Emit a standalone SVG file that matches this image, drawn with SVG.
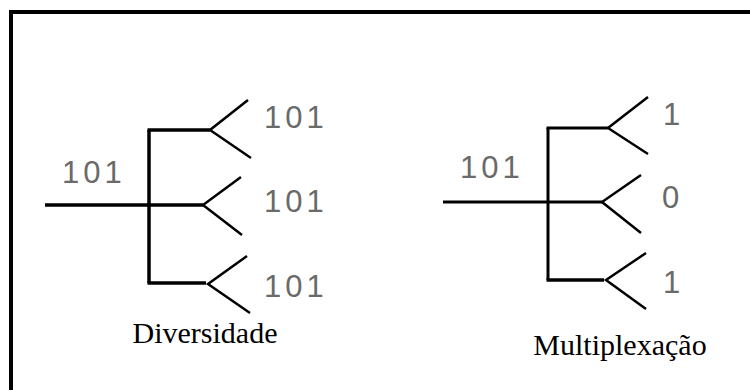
<svg xmlns="http://www.w3.org/2000/svg" width="750" height="390" viewBox="0 0 750 390">
<style>
.bg{fill:#ffffff}
.frame{fill:none;stroke:#000;stroke-width:4}
.trunk{fill:none;stroke:#000;stroke-width:3.5;stroke-linecap:butt}
.trunk2{fill:none;stroke:#000;stroke-width:3;stroke-linecap:butt}
.arm{fill:none;stroke:#000;stroke-width:2.5;stroke-linecap:butt}
.bits{font-family:"Liberation Sans",Arial,sans-serif;font-size:31px;fill:#6a6a6a;letter-spacing:4px}
.cap{font-family:"Liberation Serif","Times New Roman",serif;font-size:30px;fill:#000;text-anchor:middle}
</style>
<rect class="bg" x="0" y="0" width="750" height="390"/>
<path class="frame" d="M11,394 V12 H754"/>
<g id="connectors">
  <g id="div-lines">
    <path class="trunk" d="M45,205 H149"/>
    <path class="trunk" d="M149,130 V283"/>
    <path class="trunk" d="M147.5,130 H210"/>
    <path class="trunk" d="M149,205 H203"/>
    <path class="trunk" d="M147.5,283 H206"/>
  </g>
  <g id="mux-lines">
    <path class="trunk2" d="M443,202 H548"/>
    <path class="trunk2" d="M548,128 V280"/>
    <path class="trunk2" d="M546.5,128 H608"/>
    <path class="trunk2" d="M548,202 H602"/>
    <path class="trunk" d="M546.5,280 H604"/>
  </g>
</g>
<g id="div-ant1"><path class="arm" d="M248,100 L210,130 L251,158"/></g>
<g id="div-ant2"><path class="arm" d="M241,177 L203,205 L242,235"/></g>
<g id="div-ant3"><path class="arm" d="M247,256 L208,284 L250,313"/></g>
<g id="mux-ant1"><path class="arm" d="M648,97 L608,128 L648,154"/></g>
<g id="mux-ant2"><path class="arm" d="M641,175 L602,202 L641,233"/></g>
<g id="mux-ant3"><path class="arm" d="M646,253 L606,280 L646,309"/></g>
<g id="div-labels">
  <text class="bits" x="62" y="183">101</text>
  <text class="bits" x="264" y="128">101</text>
  <text class="bits" x="264" y="212">101</text>
  <text class="bits" x="264" y="297">101</text>
  <text class="cap" x="205" y="343">Diversidade</text>
</g>
<g id="mux-labels">
  <text class="bits" x="460" y="178">101</text>
  <text class="bits" x="663" y="125">1</text>
  <text class="bits" x="662" y="208">0</text>
  <text class="bits" x="663" y="293">1</text>
  <text class="cap" x="620" y="355">Multiplexação</text>
</g>
</svg>
